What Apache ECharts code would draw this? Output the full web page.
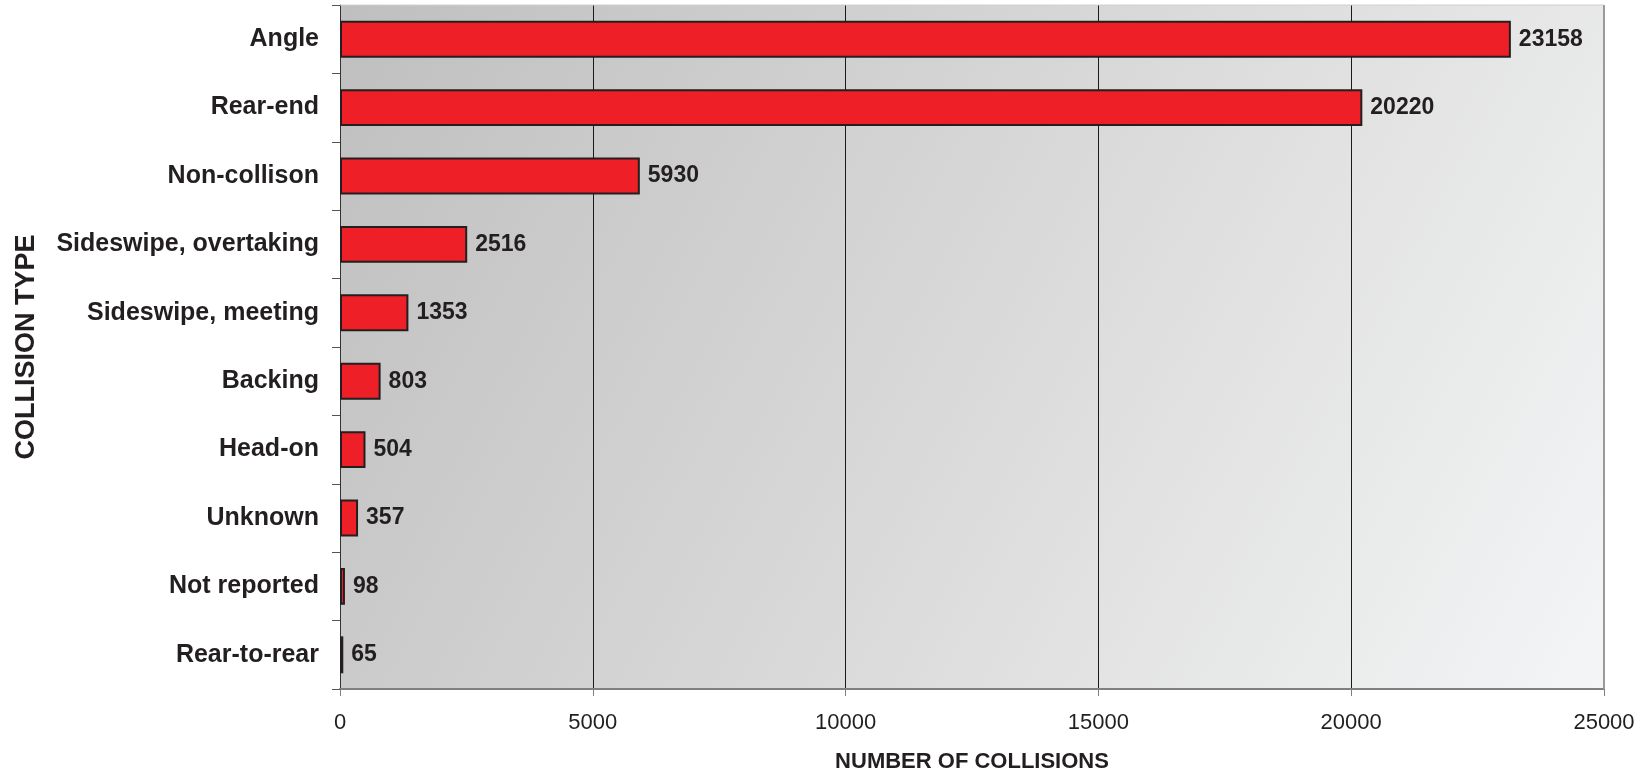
<!DOCTYPE html>
<html>
<head>
<meta charset="utf-8">
<script src="https://cdn.jsdelivr.net/npm/echarts@6/dist/echarts.min.js"></script>
<style>
html,body{margin:0;padding:0;background:#fff;}
#chart{width:1652px;height:773px;}
</style>
</head>
<body>
<div id="chart"></div>
<script>
const categories = ["Angle","Rear-end","Non-collison","Sideswipe, overtaking","Sideswipe, meeting","Backing","Head-on","Unknown","Not reported","Rear-to-rear"];
const collisions = [23158,20220,5930,2516,1353,803,504,357,98,65];
const xTicks = {min:0, max:25000, interval:5000};
const xAxisTitle = "NUMBER OF COLLISIONS";
const yAxisTitle = "COLLISION TYPE";

const chart = echarts.init(document.getElementById('chart'));
const font = "'Liberation Sans', Arial, sans-serif";
chart.setOption({
  animation:false,
  grid:{
    left:340, right:48, top:5, bottom:84,
    containLabel:false, outerBoundsMode:'none',
    show:true,
    borderWidth:0,
    backgroundColor:{type:'linear',x:0,y:0,x2:1,y2:1,colorStops:[
      {offset:0,color:'#bfbfbf'},{offset:0.5,color:'#d9d9d9'},{offset:1,color:'#f4f5f6'}]}
  },
  xAxis:{
    type:'value', min:xTicks.min, max:xTicks.max, interval:xTicks.interval,
    position:'bottom',
    name:xAxisTitle, nameLocation:'middle', nameGap:62,
    nameTextStyle:{fontFamily:font,fontWeight:'bold',fontSize:22,color:'#231f20'},
    axisLine:{show:true,lineStyle:{color:'#7f7f7f',width:2}},
    axisTick:{show:true,length:7,lineStyle:{color:'#7f7f7f',width:1}},
    axisLabel:{fontFamily:font,fontSize:22,color:'#231f20',margin:23,formatter:v=>String(v)},
    splitLine:{show:true,lineStyle:{color:'#1a1a1a',width:1}}
  },
  yAxis:{
    type:'category', data:categories, inverse:true,
    name:yAxisTitle, nameLocation:'middle', nameGap:300, nameRotate:90,
    nameTextStyle:{fontFamily:font,fontWeight:'bold',fontSize:27,color:'#231f20'},
    axisLine:{show:true,lineStyle:{color:'#333',width:1}},
    axisTick:{show:true,length:8,lineStyle:{color:'#555',width:1}},
    axisLabel:{fontFamily:font,fontWeight:'bold',fontSize:25,color:'#231f20',margin:21},
    splitLine:{show:false}
  },
  graphic:[
    {type:'line',shape:{x1:1604,y1:5,x2:1604,y2:689},style:{stroke:'#999',lineWidth:2},z:10},
    {type:'line',shape:{x1:340,y1:5,x2:1604,y2:5},style:{stroke:'#d0d0d0',lineWidth:1},z:10}
  ],
  series:[{
    type:'bar', data:collisions, barCategoryGap:'46%',
    itemStyle:{color:'#ee1f26',borderColor:'#231f20',borderWidth:2},
    label:{show:true,position:'right',distance:8,fontFamily:font,fontWeight:'bold',fontSize:23,color:'#231f20'}
  }]
});
</script>
</body>
</html>
